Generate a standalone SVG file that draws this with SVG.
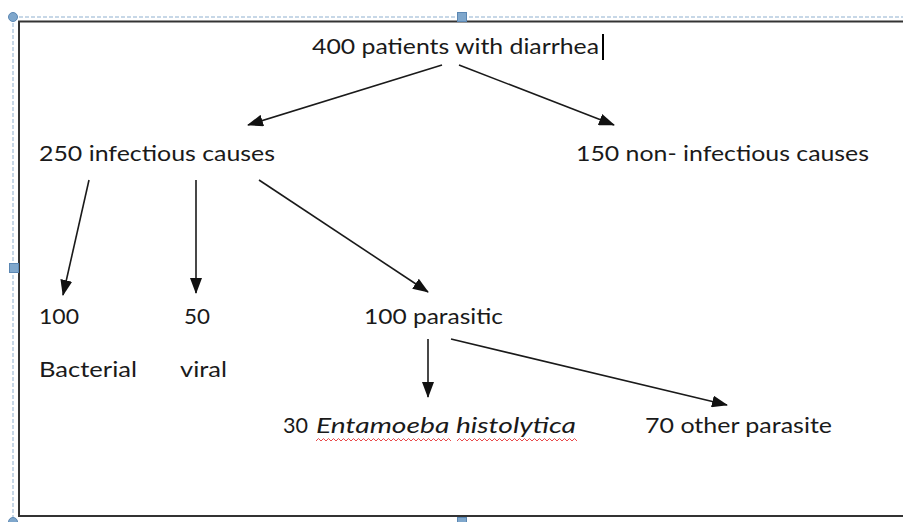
<svg xmlns="http://www.w3.org/2000/svg" width="903" height="522" viewBox="0 0 903 522">
<style>
.t{font-family:Lato,"Open Sans","Liberation Sans",sans-serif;font-size:21px;fill:#1a1a1a}
.i{font-style:italic}
.c{stroke:#1a1a1a;stroke-width:1.6;fill:none;marker-end:url(#ah)}
.sq{fill:#7fa7cc;stroke:#5b87b3;stroke-width:1}
.wv{stroke:#e84a4a;stroke-width:1;fill:none}
</style>
<defs>
<marker id="ah" markerUnits="userSpaceOnUse" markerWidth="16" markerHeight="12" refX="15" refY="6" orient="auto">
<path d="M0,0 L16,6 L0,12 Z" fill="#111"/>
</marker>
</defs>
<rect width="903" height="522" fill="#fff"/>
<g id="frame">
<path d="M13,17 H903 M13,17 V522" stroke="#8fb0cf" stroke-width="1" stroke-dasharray="4,2" fill="none"/>
<path d="M903,21.5 H19 V516 H903" stroke="#333" stroke-width="2" fill="none"/>
<circle cx="13" cy="17" r="4.5" class="sq"/>
<rect x="457.5" y="12.5" width="9" height="9" class="sq"/>
<rect x="9.5" y="263.5" width="9" height="9" class="sq"/>
<circle cx="13" cy="522" r="4.5" class="sq"/>
<rect x="457.5" y="517.5" width="9" height="9" class="sq"/>
</g>
<g id="connectors">
<line class="c" x1="442" y1="65" x2="248" y2="125"/>
<line class="c" x1="459" y1="65" x2="614" y2="125"/>
<line class="c" x1="89" y1="180" x2="63" y2="295"/>
<line class="c" x1="196" y1="180" x2="196" y2="293"/>
<line class="c" x1="259" y1="180" x2="428" y2="292"/>
<line class="c" x1="428" y1="339" x2="428" y2="397"/>
<line class="c" x1="451" y1="339" x2="727" y2="405"/>
</g>
<g id="n400">
<text class="t" x="312" y="54" textLength="287" lengthAdjust="spacingAndGlyphs">400 patients with diarrhea</text>
<rect x="602" y="34" width="2" height="26" fill="#000"/>
</g>
<g id="n250"><text class="t" x="39" y="161" textLength="236" lengthAdjust="spacingAndGlyphs">250 infectious causes</text></g>
<g id="n150"><text class="t" x="576" y="161" textLength="293" lengthAdjust="spacingAndGlyphs">150 non- infectious causes</text></g>
<g id="nbact">
<text class="t" x="39" y="324" textLength="40" lengthAdjust="spacingAndGlyphs">100</text>
<text class="t" x="39" y="377" textLength="98" lengthAdjust="spacingAndGlyphs">Bacterial</text>
</g>
<g id="nviral">
<text class="t" x="184" y="324" textLength="26" lengthAdjust="spacingAndGlyphs">50</text>
<text class="t" x="180" y="377" textLength="47" lengthAdjust="spacingAndGlyphs">viral</text>
</g>
<g id="npar"><text class="t" x="364" y="324" textLength="139" lengthAdjust="spacingAndGlyphs">100 parasitic</text></g>
<g id="nent">
<text class="t" x="283" y="433" textLength="25" lengthAdjust="spacingAndGlyphs">30</text>
<text class="t i" x="316" y="433" textLength="260" lengthAdjust="spacingAndGlyphs">Entamoeba histolytica</text>
<path class="wv" d="M316,441 l2.5,-2.5 l2.5,2.5 l2.5,-2.5 l2.5,2.5 l2.5,-2.5 l2.5,2.5 l2.5,-2.5 l2.5,2.5 l2.5,-2.5 l2.5,2.5 l2.5,-2.5 l2.5,2.5 l2.5,-2.5 l2.5,2.5 l2.5,-2.5 l2.5,2.5 l2.5,-2.5 l2.5,2.5 l2.5,-2.5 l2.5,2.5 l2.5,-2.5 l2.5,2.5 l2.5,-2.5 l2.5,2.5 l2.5,-2.5 l2.5,2.5 l2.5,-2.5 l2.5,2.5 l2.5,-2.5 l2.5,2.5 l2.5,-2.5 l2.5,2.5 l2.5,-2.5 l2.5,2.5 l2.5,-2.5 l2.5,2.5 l2.5,-2.5 l2.5,2.5 l2.5,-2.5 l2.5,2.5 l2.5,-2.5 l2.5,2.5 l2.5,-2.5 l2.5,2.5 l2.5,-2.5 l2.5,2.5 l2.5,-2.5 l2.5,2.5 l2.5,-2.5 l2.5,2.5 l2.5,-2.5 l2.5,2.5 l2.5,-2.5 l2.5,2.5"/>
<path class="wv" d="M457,441 l2.5,-2.5 l2.5,2.5 l2.5,-2.5 l2.5,2.5 l2.5,-2.5 l2.5,2.5 l2.5,-2.5 l2.5,2.5 l2.5,-2.5 l2.5,2.5 l2.5,-2.5 l2.5,2.5 l2.5,-2.5 l2.5,2.5 l2.5,-2.5 l2.5,2.5 l2.5,-2.5 l2.5,2.5 l2.5,-2.5 l2.5,2.5 l2.5,-2.5 l2.5,2.5 l2.5,-2.5 l2.5,2.5 l2.5,-2.5 l2.5,2.5 l2.5,-2.5 l2.5,2.5 l2.5,-2.5 l2.5,2.5 l2.5,-2.5 l2.5,2.5 l2.5,-2.5 l2.5,2.5 l2.5,-2.5 l2.5,2.5 l2.5,-2.5 l2.5,2.5 l2.5,-2.5 l2.5,2.5 l2.5,-2.5 l2.5,2.5 l2.5,-2.5 l2.5,2.5 l2.5,-2.5 l2.5,2.5 l2.5,-2.5 l2.5,2.5"/>
</g>
<g id="nother"><text class="t" x="645" y="433" textLength="187" lengthAdjust="spacingAndGlyphs">70 other parasite</text></g>
</svg>
